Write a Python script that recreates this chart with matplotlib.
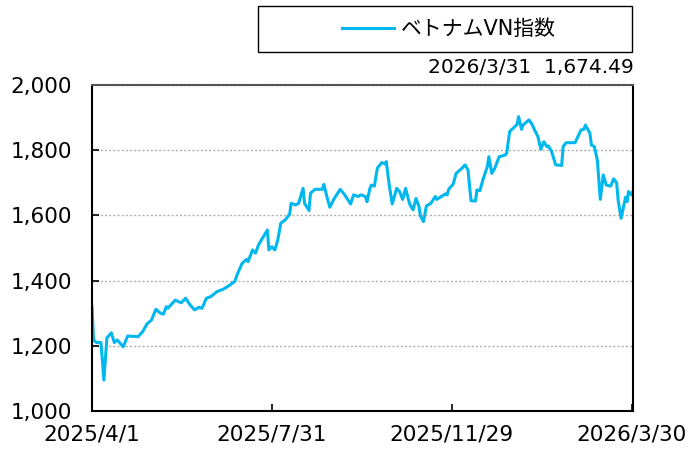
import matplotlib
matplotlib.use("Agg")
import matplotlib.pyplot as plt
import matplotlib.patches as mpatches
import pandas as pd

plt.rcParams['font.family'] = ['DejaVu Sans', 'Noto Sans CJK JP']

# データ (チャートから読み取り)
dates = [
    '2025-04-01', '2025-04-02', '2025-04-04', '2025-04-07', '2025-04-09', '2025-04-11',
    '2025-04-14', '2025-04-16', '2025-04-18', '2025-04-22', '2025-04-25', '2025-05-02',
    '2025-05-05', '2025-05-08', '2025-05-11', '2025-05-14', '2025-05-17', '2025-05-19',
    '2025-05-21', '2025-05-22', '2025-05-27', '2025-05-31', '2025-06-03', '2025-06-06',
    '2025-06-09', '2025-06-12', '2025-06-14', '2025-06-17', '2025-06-20', '2025-06-24',
    '2025-06-28', '2025-07-01', '2025-07-06', '2025-07-08', '2025-07-11', '2025-07-14',
    '2025-07-15', '2025-07-18', '2025-07-20', '2025-07-22', '2025-07-24', '2025-07-28',
    '2025-07-29', '2025-07-31', '2025-08-02', '2025-08-04', '2025-08-06', '2025-08-09',
    '2025-08-12', '2025-08-13', '2025-08-16', '2025-08-18', '2025-08-21', '2025-08-22',
    '2025-08-25', '2025-08-26', '2025-08-29', '2025-09-03', '2025-09-04', '2025-09-06',
    '2025-09-08', '2025-09-11', '2025-09-15', '2025-09-18', '2025-09-22', '2025-09-24',
    '2025-09-27', '2025-09-29', '2025-10-02', '2025-10-03', '2025-10-05', '2025-10-06',
    '2025-10-08', '2025-10-10', '2025-10-13', '2025-10-15', '2025-10-16', '2025-10-18',
    '2025-10-20', '2025-10-23', '2025-10-25', '2025-10-27', '2025-10-29', '2025-10-31',
    '2025-11-01', '2025-11-03', '2025-11-05', '2025-11-07', '2025-11-08', '2025-11-10',
    '2025-11-12', '2025-11-15', '2025-11-18', '2025-11-19', '2025-11-22', '2025-11-25',
    '2025-11-26', '2025-11-27', '2025-11-30', '2025-12-02', '2025-12-06', '2025-12-08',
    '2025-12-10', '2025-12-12', '2025-12-15', '2025-12-16', '2025-12-18', '2025-12-20',
    '2025-12-23', '2025-12-24', '2025-12-26', '2025-12-28', '2025-12-31', '2026-01-04',
    '2026-01-05', '2026-01-07', '2026-01-08', '2026-01-10', '2026-01-12', '2026-01-13',
    '2026-01-15', '2026-01-16', '2026-01-20', '2026-01-22', '2026-01-24', '2026-01-26',
    '2026-01-28', '2026-01-30', '2026-02-01', '2026-02-02', '2026-02-04', '2026-02-07',
    '2026-02-11', '2026-02-12', '2026-02-14', '2026-02-20', '2026-02-23', '2026-02-24',
    '2026-02-26', '2026-02-27', '2026-03-02', '2026-03-03', '2026-03-05', '2026-03-07',
    '2026-03-09', '2026-03-11', '2026-03-13', '2026-03-16', '2026-03-18', '2026-03-20',
    '2026-03-21', '2026-03-23', '2026-03-26', '2026-03-27', '2026-03-28', '2026-03-30',
    '2026-03-31',
]
vn_index = [
    1319, 1218, 1210, 1210, 1095, 1224,
    1240, 1210, 1218, 1197, 1230, 1228,
    1243, 1267, 1279, 1312, 1300, 1297,
    1320, 1315, 1340, 1332, 1346, 1325,
    1310, 1318, 1315, 1346, 1351, 1366,
    1373, 1381, 1397, 1422, 1453, 1465,
    1458, 1494, 1484, 1509, 1525, 1555,
    1494, 1504, 1494, 1525, 1576, 1586,
    1604, 1637, 1632, 1637, 1683, 1637,
    1615, 1668, 1680, 1680, 1695, 1658,
    1625, 1652, 1680, 1663, 1635, 1663,
    1658, 1663, 1658, 1642, 1683, 1693,
    1690, 1745, 1762, 1758, 1765, 1693,
    1635, 1683, 1673, 1649, 1683, 1647,
    1632, 1617, 1652, 1627, 1598, 1581,
    1629, 1637, 1658, 1649, 1658, 1666,
    1663, 1680, 1696, 1729, 1745, 1755,
    1739, 1645, 1644, 1678, 1676, 1709,
    1750, 1780, 1729, 1745, 1780, 1785,
    1791, 1857, 1862, 1870, 1879, 1903,
    1864, 1877, 1893, 1880, 1860, 1842,
    1803, 1826, 1811, 1813, 1799, 1755,
    1753, 1811, 1823, 1823, 1852, 1862,
    1864, 1877, 1852, 1816, 1811, 1770,
    1649, 1724, 1693, 1690, 1712, 1700,
    1647, 1591, 1656, 1642, 1673, 1663,
    1674.49,
]
tick_dates = ['2025-04-01', '2025-07-31', '2025-11-29', '2026-03-30']
tick_labels = ['2025/4/1', '2025/7/31', '2025/11/29', '2026/3/30']
y_ticks = [1000, 1200, 1400, 1600, 1800, 2000]
series_name = 'ベトナムVN指数'
last_label = '2026/3/31  1,674.49'

x = pd.to_datetime(dates)

fig = plt.figure(figsize=(6.94, 4.5), dpi=100)
ax = fig.add_axes([0.1326, 0.0867, 0.7795, 0.7244])

line, = ax.plot(x, vn_index, color='#00B8EE', lw=2.2, label=series_name)

ax.set_xlim(pd.Timestamp('2025-04-01'), pd.Timestamp('2026-03-31'))
ax.set_ylim(1000, 2000)
ax.set_xticks(pd.to_datetime(tick_dates))
ax.set_xticklabels(tick_labels)
ax.set_yticks(y_ticks)
ax.set_yticklabels([f'{v:,}' for v in y_ticks])
ax.tick_params(axis='both', direction='in', length=5, width=1.2, labelsize=15.5, colors='black')
ax.tick_params(axis='y', pad=14.5)
ax.tick_params(axis='x', pad=10)

ax.grid(axis='y', color='#b0b0b0', linestyle=(0, (1.5, 1.5)), lw=1)
for s in ['left', 'bottom', 'right']:
    ax.spines[s].set_color('black')
    ax.spines[s].set_linewidth(1.5)
ax.spines['top'].set_color('#555555')
ax.spines['top'].set_linewidth(1.5)

# 凡例の枠
box = mpatches.Rectangle((258 / 694, 1 - 52 / 450), (632 - 258) / 694, 46 / 450,
                         transform=fig.transFigure, fill=False, edgecolor='black', lw=1)
fig.patches.append(box)
fig.legend(handles=[line], loc='center', bbox_to_anchor=(0.647, 0.935),
           frameon=False, fontsize=15, handlelength=2.5, handletextpad=0.3)

fig.text(0.9135, 0.849, last_label, ha='right', va='center', fontsize=14.5)

fig.savefig('out.png', dpi=100)
